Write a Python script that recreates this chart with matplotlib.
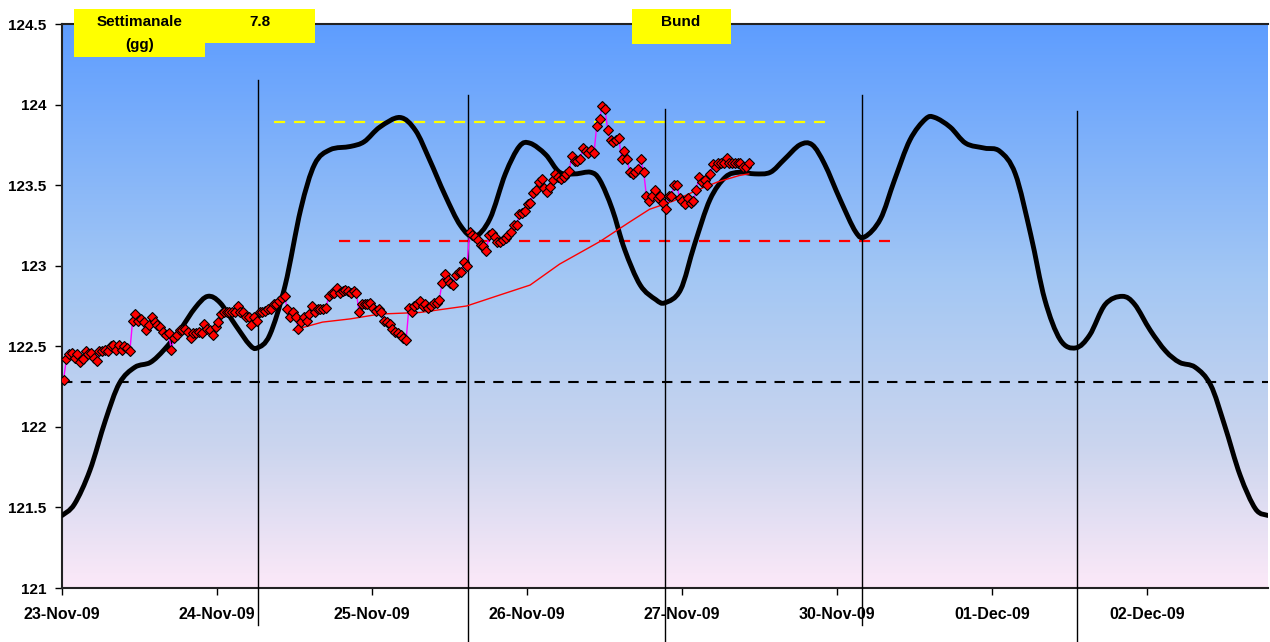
import matplotlib
matplotlib.use("Agg")
import matplotlib.pyplot as plt
from matplotlib.patches import Rectangle, PathPatch
from matplotlib.path import Path
from matplotlib.colors import LinearSegmentedColormap
import numpy as np

plt.rcParams['font.family'] = ['Liberation Sans', 'DejaVu Sans']
plt.rcParams['font.weight'] = 'bold'

# x in days from 23-Nov-09
day_labels = ['23-Nov-09', '24-Nov-09', '25-Nov-09', '26-Nov-09',
              '27-Nov-09', '30-Nov-09', '01-Dec-09', '02-Dec-09']
y_ticks = [121, 121.5, 122, 122.5, 123, 123.5, 124, 124.5]
y_labels = ['121', '121.5', '122', '122.5', '123', '123.5', '124', '124.5']

# intraday prices (red diamonds)
price = [
    122.29, 122.42, 122.45, 122.46, 122.43, 122.45, 122.40, 122.42, 122.47, 122.45,
    122.46, 122.43, 122.41, 122.47, 122.47, 122.48, 122.47, 122.50, 122.51, 122.48,
    122.51, 122.48, 122.50, 122.49, 122.47, 122.66, 122.70, 122.66, 122.67, 122.65,
    122.60, 122.63, 122.68, 122.65, 122.63, 122.62, 122.59, 122.57, 122.58, 122.48,
    122.55, 122.57, 122.60,
    122.60, 122.61, 122.59, 122.55, 122.58, 122.58, 122.59, 122.58, 122.64, 122.61,
    122.60, 122.57, 122.62, 122.65, 122.70, 122.71, 122.71, 122.71, 122.71, 122.71,
    122.75, 122.71, 122.71, 122.68, 122.68, 122.63, 122.68, 122.66, 122.71, 122.71,
    122.72, 122.73, 122.73, 122.76, 122.76, 122.78, 122.80, 122.81, 122.73, 122.68,
    122.71, 122.68, 122.61, 122.65,
    122.68, 122.66, 122.70, 122.75, 122.71, 122.73, 122.73, 122.73, 122.74, 122.81,
    122.83, 122.83, 122.86, 122.83, 122.84, 122.85, 122.84, 122.83, 122.84, 122.83,
    122.71, 122.76, 122.76, 122.76, 122.77, 122.74, 122.72, 122.73, 122.71, 122.66,
    122.65, 122.64, 122.61, 122.59, 122.58, 122.57, 122.55, 122.54, 122.74, 122.71,
    122.75, 122.76,
    122.78, 122.75, 122.76, 122.74, 122.75, 122.77, 122.77, 122.79, 122.89, 122.95,
    122.91, 122.89, 122.88, 122.94, 122.96, 122.96, 123.02, 123.00, 123.21, 123.19,
    123.18, 123.16, 123.13, 123.12, 123.09, 123.19, 123.20, 123.18, 123.15, 123.15,
    123.16, 123.17, 123.19, 123.21, 123.25, 123.25, 123.32, 123.33, 123.34,
    123.38, 123.39, 123.45, 123.47, 123.52, 123.54, 123.48, 123.46,
    123.49, 123.53, 123.57, 123.55, 123.54, 123.55, 123.57, 123.59, 123.68, 123.65,
    123.65, 123.66, 123.73, 123.71, 123.70, 123.72, 123.70, 123.87, 123.91, 123.99,
    123.97, 123.84, 123.78, 123.77, 123.78, 123.79, 123.66, 123.71, 123.66, 123.58,
    123.57, 123.58, 123.60, 123.66, 123.58, 123.43, 123.40, 123.43, 123.47, 123.42,
    123.43, 123.39, 123.35, 123.43, 123.43, 123.50, 123.50, 123.42, 123.40, 123.38,
    123.42, 123.39, 123.40, 123.47, 123.55, 123.52, 123.53, 123.50, 123.57, 123.63,
    123.61, 123.64, 123.64, 123.64, 123.67, 123.64, 123.64, 123.64, 123.64, 123.64,
    123.61, 123.61, 123.64]
price_start = 0.01
price_end = 4.43

# moving average (thin red)
ma_x = [1.49, 1.68, 1.86, 2.05, 2.31, 2.61, 2.83, 3.02, 3.21, 3.47, 3.66, 3.79,
        3.94, 4.10, 4.23, 4.37, 4.43]
ma_y = [122.60, 122.65, 122.67, 122.70, 122.71, 122.75, 122.82, 122.88, 123.01,
        123.15, 123.27, 123.35, 123.40, 123.47, 123.52, 123.56, 123.57]

# cycle curve (thick black, smoothed like Excel)
cyc_x = [0.00, 0.08, 0.18, 0.28, 0.37, 0.47, 0.57, 0.66, 0.76, 0.86, 0.94, 1.02,
         1.12, 1.21, 1.26, 1.34, 1.44, 1.54, 1.63, 1.73, 1.86, 1.95, 2.05, 2.18,
         2.28, 2.37, 2.47, 2.57, 2.66, 2.76, 2.86, 2.95, 3.02, 3.12, 3.21, 3.31,
         3.41, 3.47, 3.55, 3.63, 3.73, 3.83, 3.89, 3.99, 4.08, 4.18, 4.28, 4.37,
         4.47, 4.57, 4.66, 4.76, 4.84, 4.92, 5.02, 5.12, 5.18, 5.28, 5.37, 5.47,
         5.57, 5.63, 5.73, 5.83, 5.95, 6.05, 6.15, 6.25, 6.34, 6.44, 6.54, 6.63,
         6.73, 6.84, 6.92, 7.02, 7.12, 7.21, 7.31, 7.41, 7.50, 7.60, 7.70, 7.78]
cyc_y = [121.45, 121.52, 121.73, 122.04, 122.27, 122.37, 122.40, 122.48, 122.60,
         122.74, 122.81, 122.77, 122.63, 122.51, 122.49, 122.57, 122.88, 123.35,
         123.63, 123.72, 123.74, 123.77, 123.86, 123.92, 123.84, 123.66, 123.44,
         123.25, 123.18, 123.29, 123.57, 123.74, 123.76, 123.69, 123.58, 123.57,
         123.58, 123.53, 123.35, 123.10, 122.88, 122.79, 122.77, 122.85, 123.13,
         123.41, 123.55, 123.58, 123.57, 123.58, 123.66, 123.75, 123.75, 123.63,
         123.41, 123.21, 123.18, 123.29, 123.53, 123.78, 123.91, 123.92, 123.86,
         123.76, 123.73, 123.71, 123.57, 123.19, 122.79, 122.54, 122.49, 122.57,
         122.76, 122.81, 122.76, 122.60, 122.47, 122.40, 122.37, 122.26, 122.01,
         121.70, 121.49, 121.45]

# horizontal levels
yellow_lvl = 123.89
yellow_x = [1.37, 4.92]
red_lvl = 123.155
red_x = [1.79, 5.34]
black_lvl = 122.28

# vertical cycle markers
vx = [1.265, 2.62, 3.89, 5.16, 6.55]
v_top = [124.155, 124.06, 123.97, 124.06, 123.96]
v_bot = [120.77, 120.6, 120.6, 120.77, 120.6]

W, H = 1270, 642
fig = plt.figure(figsize=(W / 100, H / 100), dpi=100)
ax = fig.add_axes([62 / W, 1 - 588 / H, (1268 - 62) / W, (588 - 24) / H])

xmax = 7.78
cmap = LinearSegmentedColormap.from_list('bg', [(0, '#5e9dff'), (0.45, '#a3c7f4'),
                                                (0.75, '#cbd5ee'), (1, '#fce9f8')])
grad = np.linspace(0, 1, 256).reshape(-1, 1)
ax.imshow(grad, extent=[0, xmax, 121, 124.5], aspect='auto', cmap=cmap,
          origin='upper', zorder=0)

ax.plot([0, xmax], [black_lvl, black_lvl], color='black', lw=1.5, dashes=(5, 4), zorder=2)
ax.plot(yellow_x, [yellow_lvl, yellow_lvl], color='#ffff00', lw=1.6, dashes=(5, 4), zorder=2)
ax.plot(red_x, [red_lvl, red_lvl], color='#ff0000', lw=1.6, dashes=(5, 4), zorder=2)

for x, t, b in zip(vx, v_top, v_bot):
    ax.plot([x, x], [b, t], color='black', lw=1, clip_on=False, zorder=3)

# smoothed line: cubic Bezier segments through the read points
pts = np.column_stack([cyc_x, cyc_y])
verts = [tuple(pts[0])]
codes = [Path.MOVETO]
for i in range(len(pts) - 1):
    p0 = pts[max(i - 1, 0)]
    p1 = pts[i]
    p2 = pts[i + 1]
    p3 = pts[min(i + 2, len(pts) - 1)]
    verts += [tuple(p1 + (p2 - p0) / 6), tuple(p2 - (p3 - p1) / 6), tuple(p2)]
    codes += [Path.CURVE4] * 3
ax.add_patch(PathPatch(Path(verts, codes), facecolor='none', edgecolor='black',
                       lw=3.5, capstyle='round', joinstyle='round', zorder=4))

ax.plot(ma_x, ma_y, color='#ff0000', lw=1, zorder=5)

px = np.linspace(price_start, price_end, len(price))
ax.plot(px, price, color='#ff00ff', lw=1, marker='D', markersize=5,
        markerfacecolor='#ff0000', markeredgecolor='black', markeredgewidth=0.8,
        zorder=6)

ax.set_xlim(0, xmax)
ax.set_ylim(121, 124.5)
ax.set_xticks(range(len(day_labels)))
ax.set_xticklabels(day_labels)
ax.set_yticks(y_ticks)
ax.set_yticklabels(y_labels)
ax.tick_params(axis='both', direction='out', length=5, width=1, labelsize=11,
               colors='black')
ax.tick_params(axis='x', pad=9, labelsize=11.5)
ax.tick_params(axis='y', pad=6)
for s in ['left', 'bottom', 'top']:
    ax.spines[s].set_color('#222222')
    ax.spines[s].set_linewidth(1.5)
ax.spines['right'].set_visible(False)


def box(x0, y0, x1, y1):
    fig.patches.append(Rectangle((x0 / W, 1 - y1 / H), (x1 - x0) / W, (y1 - y0) / H,
                                 transform=fig.transFigure, facecolor='#ffff00',
                                 edgecolor='none', zorder=10))


box(74, 9, 205, 57)
box(205, 9, 315, 43)
box(632, 9, 731, 44)
fig.text(140 / W, 1 - 22 / H, 'Settimanale', ha='center', va='center', fontsize=11, zorder=11)
fig.text(140 / W, 1 - 45 / H, '(gg)', ha='center', va='center', fontsize=11, zorder=11)
fig.text(260 / W, 1 - 22 / H, '7.8', ha='center', va='center', fontsize=11, zorder=11)
fig.text(681 / W, 1 - 22 / H, 'Bund', ha='center', va='center', fontsize=11, zorder=11)

fig.savefig('out.png', dpi=100)
